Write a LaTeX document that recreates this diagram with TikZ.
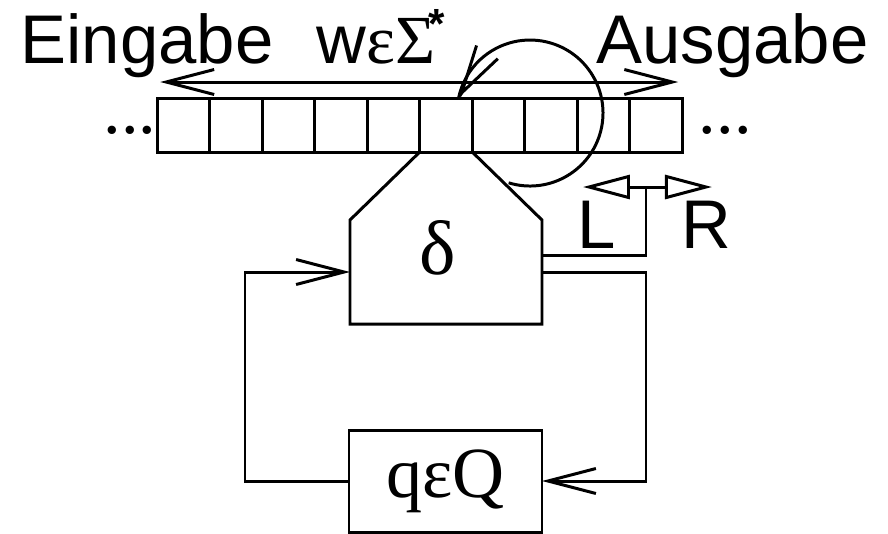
\documentclass[tikz,border=0pt]{standalone}
\usepackage{fontspec}
\setmainfont{Liberation Sans}
\newfontfamily\timesfont{Liberation Serif}
\usetikzlibrary{arrows.meta,positioning,calc}
\definecolor{ink}{RGB}{0,0,0}
\tikzset{
  wire/.style={draw=ink,line width=0.85pt},
  cell/.style={wire,minimum width=5.25mm,minimum height=5.4mm,inner sep=0pt,outer sep=0pt},
  body/.style={minimum width=19.2mm,minimum height=10.4mm,inner sep=0pt,outer sep=0pt},
  statebox/.style={wire,minimum width=19.3mm,minimum height=10.2mm,inner sep=0pt,outer sep=0pt,
    font=\fontsize{20.5}{20.5}\selectfont\timesfont},
  tri/.style={wire,-{Triangle[open,length=4.7mm,width=2.4mm]}},
  big/.style={font=\fontsize{19.6}{19.6}\selectfont,inner sep=0pt},
  greek/.style={font=\fontsize{22}{22}\selectfont\timesfont,inner sep=0pt},
  dots/.style={font=\fontsize{20}{20}\selectfont\timesfont,inner sep=0pt},
}

\begin{document}
\begin{tikzpicture}[>={Straight Barb[length=4.8mm,width=2.5mm]}]
  \useasboundingbox (0,0) rectangle (8.88,-5.33);
  % tape
  \foreach \i in {1,...,10}
    \node[cell] (c\i) at ({1.31+0.525*\i},-1.25) {};
  \node[dots,left=0pt of c1,yshift=-0.5mm] (ldots) {...};
  \node[dots,right=1.6mm of c10,yshift=-0.5mm] (rdots) {...};
  \draw[wire,<->] ([shift={(0.03,0.16)}]c1.north west) -- ([shift={(-0.04,0.16)}]c10.north east);
  % labels above the tape
  \node[big,anchor=base west] (ein) at (0.20,-0.63) {Eingabe};
  \node[big,anchor=base west] (word) at (3.16,-0.63)
    {w{\timesfont εΣ}\kern-2pt\raisebox{7pt}{\fontsize{12}{12}\selectfont\bfseries *}};
  \node[big,anchor=base west] (aus) at (5.96,-0.63) {Ausgabe};
  % head / transition function
  \node[body] (delta) at (4.46,-2.72) {};
  \draw[wire] (c6.south west) -- (delta.north west) -- (delta.south west)
    -- (delta.south east) -- (delta.north east) -- (c6.south east);
  \node[greek] (dlbl) at ($(delta.center)+(-0.08,0.24)$) {δ};
  % write back onto the tape
  \coordinate (loopc) at (5.30,-1.13);
  \coordinate (wtip) at ([shift={(168:0.73)}]loopc);
  \draw[wire] ([shift={(-107:0.73)}]loopc) arc[start angle=-107,end angle=168,radius=0.73];
  \draw[wire,->] ([shift={(58:0.02)}]wtip) -- (wtip);
  % head movement
  \coordinate (lr) at (6.46,-1.87);
  \coordinate (Ltip) at (5.83,-1.87);
  \coordinate (Rtip) at (7.12,-1.87);
  \draw[wire] ([yshift=1.7mm]delta.east) -| (lr);
  \draw[tri] (lr) -- (Ltip);
  \draw[tri] (lr) -- (Rtip);
  \node[big,anchor=base] (Llbl) at (5.97,-2.48) {L};
  \node[big,anchor=base] (Rlbl) at (7.06,-2.48) {R};
  % state
  \node[statebox] (state) at (4.455,-4.81) {qεQ};
  \draw[wire,->] (delta.east) -- ++(1.04,0) |- (state.east);
  \draw[wire,->] (state.west) -- ++(-1.04,0) |- (delta.west);
\end{tikzpicture}
\end{document}
